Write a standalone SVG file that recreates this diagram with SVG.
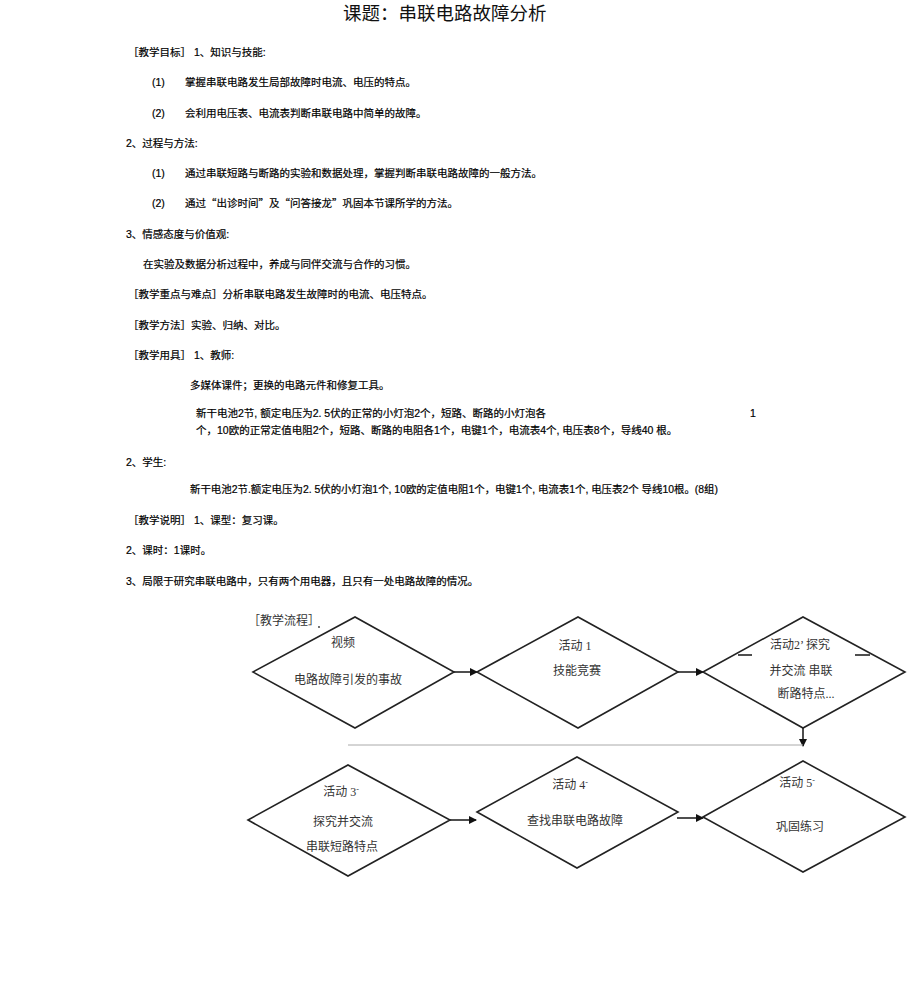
<svg xmlns="http://www.w3.org/2000/svg" width="920" height="986" viewBox="0 0 920 986">
<style>
.t{font-family:"Liberation Sans","Noto Sans CJK SC",sans-serif;font-size:10.5px;fill:#000;stroke:#000;stroke-width:0.2}
.q{font-family:"Noto Sans CJK SC",sans-serif}
.title{font-family:"Liberation Sans","Noto Sans CJK SC",sans-serif;font-size:18.5px;fill:#111}
.f{font-family:"Liberation Serif","Noto Sans CJK SC",serif;font-size:12px;fill:#333;text-anchor:middle}
.fl{font-family:"Liberation Serif","Noto Sans CJK SC",serif;font-size:12px;fill:#333}
.d{fill:none;stroke:#222;stroke-width:1.6}
.c{fill:none;stroke:#222;stroke-width:1.6}
.g{fill:none;stroke:#aaa;stroke-width:1}
</style>
<defs>
<marker id="ah" markerWidth="8" markerHeight="8" refX="7" refY="4" orient="auto" markerUnits="userSpaceOnUse">
<path d="M0,0 L8,4 L0,8 Z" fill="#111"/>
</marker>
</defs>
<rect width="920" height="986" fill="#fff"/>

<g id="text-body">
<text class="title" x="343" y="20">课题：串联电路故障分析</text>
<text class="t" x="128" y="56">［教学目标］ 1、知识与技能:</text>
<text class="t" x="152" y="86">(1)</text>
<text class="t" x="185" y="86">掌握串联电路发生局部故障时电流、电压的特点。</text>
<text class="t" x="152" y="117">(2)</text>
<text class="t" x="185" y="117">会利用电压表、电流表判断串联电路中简单的故障。</text>
<text class="t" x="126" y="147">2、过程与方法:</text>
<text class="t" x="152" y="177">(1)</text>
<text class="t" x="185" y="177">通过串联短路与断路的实验和数据处理，掌握判断串联电路故障的一般方法。</text>
<text class="t" x="152" y="207">(2)</text>
<text class="t" x="185" y="207">通过<tspan class="q">“</tspan>出诊时间<tspan class="q">”</tspan>及<tspan class="q">“</tspan>问答接龙<tspan class="q">”</tspan>巩固本节课所学的方法。</text>
<text class="t" x="126" y="238">3、情感态度与价值观:</text>
<text class="t" x="143" y="268">在实验及数据分析过程中，养成与同伴交流与合作的习惯。</text>
<text class="t" x="128" y="298">［教学重点与难点］分析串联电路发生故障时的电流、电压特点。</text>
<text class="t" x="128" y="329">［教学方法］实验、归纳、对比。</text>
<text class="t" x="128" y="359">［教学用具］ 1、教师:</text>
<text class="t" x="190" y="389">多媒体课件；更换的电路元件和修复工具。</text>
<text class="t" x="196" y="417">新干电池2节, 额定电压为2. 5伏的正常的小灯泡2个，短路、断路的小灯泡各</text>
<text class="t" x="750" y="417">1</text>
<text class="t" x="196" y="434">个，10欧的正常定值电阻2个，短路、断路的电阻各1个，电键1个，电流表4个, 电压表8个，导线40 根。</text>
<text class="t" x="126" y="466">2、学生:</text>
<text class="t" x="190" y="493" textLength="528" lengthAdjust="spacingAndGlyphs">新干电池2节.额定电压为2. 5伏的小灯泡1个, 10欧的定值电阻1个，电键1个, 电流表1个, 电压表2个 导线10根。(8组)</text>
<text class="t" x="128" y="524">［教学说明］ 1、课型：复习课。</text>
<text class="t" x="126" y="554">2、课时：1课时。</text>
<text class="t" x="126" y="585">3、局限于研究串联电路中，只有两个用电器，且只有一处电路故障的情况。</text>
<text class="fl" x="248" y="625">［教学流程］</text>
<circle cx="319" cy="627" r="0.9" fill="#333"/>
</g>

<g id="connectors">
<line class="c" x1="454" y1="672" x2="477" y2="672" marker-end="url(#ah)"/>
<line class="c" x1="678" y1="672" x2="703" y2="672" marker-end="url(#ah)"/>
<line class="c" x1="803" y1="728" x2="803" y2="746" marker-end="url(#ah)"/>
<line class="g" x1="348" y1="745" x2="803" y2="745"/>
<line class="c" x1="450" y1="820" x2="476" y2="820" marker-end="url(#ah)"/>
<line class="c" x1="677" y1="818" x2="703" y2="818" marker-end="url(#ah)"/>
</g>

<g id="node-video">
<polygon class="d" points="253,672 355,617 454,672 355,728"/>
<text class="f" x="343" y="647">视频</text>
<text class="f" x="348" y="684">电路故障引发的事故</text>
</g>

<g id="node-activity1">
<polygon class="d" points="477,672 578,617 678,672 578,728"/>
<text class="f" x="575" y="650">活动 1</text>
<text class="f" x="577" y="675">技能竞赛</text>
</g>

<g id="node-activity2">
<polygon class="d" points="703,672 803,617 905,672 803,728"/>
<line class="d" x1="738" y1="655" x2="752" y2="655"/>
<line class="d" x1="855" y1="655" x2="870" y2="655"/>
<text class="f" x="800" y="649">活动2’ 探究</text>
<text class="f" x="801" y="675">并交流  串联</text>
<text class="f" x="806" y="698">断路特点...</text>
</g>

<g id="node-activity3">
<polygon class="d" points="248,820 348,765 450,820 348,876"/>
<text class="f" x="341" y="796">活动 3<tspan font-size="8" dy="-4">-</tspan></text>
<text class="f" x="343" y="826">探究并交流</text>
<text class="f" x="342" y="851">串联短路特点</text>
</g>

<g id="node-activity4">
<polygon class="d" points="477,812 577,757 678,812 577,868"/>
<text class="f" x="570" y="789">活动 4<tspan font-size="8" dy="-4">-</tspan></text>
<text class="f" x="575" y="825">查找串联电路故障</text>
</g>

<g id="node-activity5">
<polygon class="d" points="703,817 803,761 905,817 803,872"/>
<text class="f" x="797" y="787">活动 5<tspan font-size="8" dy="-4">-</tspan></text>
<text class="f" x="800" y="831">巩固练习</text>
</g>
</svg>
